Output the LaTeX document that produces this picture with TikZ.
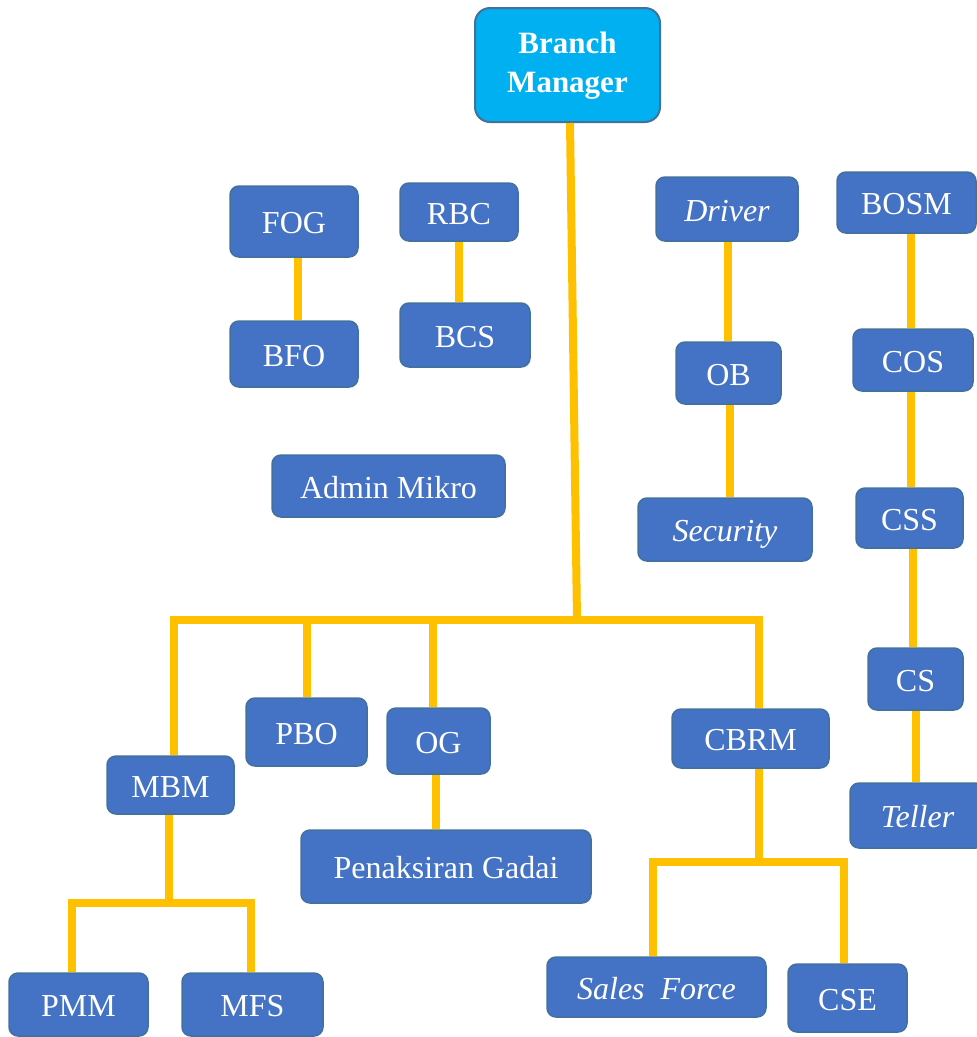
\documentclass[tikz,border=0pt]{standalone}
\usepackage{fontspec}
\setmainfont{Liberation Serif}
\definecolor{boxfill}{HTML}{4472C4}
\definecolor{boxdraw}{HTML}{41719C}
\definecolor{bmfill}{HTML}{00B0F0}
\definecolor{conncol}{HTML}{FFC000}
\tikzset{
 orgbox/.style={draw=boxdraw, fill=boxfill, line width=1.5pt, rounded corners=9pt, text=white,
   font=\fontsize{32}{38}\selectfont, inner sep=0pt, text height=24pt, text depth=0pt},
 topbox/.style={draw=boxdraw, fill=bmfill, line width=2pt, rounded corners=15pt, text=white,
   font=\fontsize{31}{39}\selectfont\bfseries, align=center, inner sep=0pt},
 conn/.style={draw=conncol, line width=8pt, line join=miter, line cap=butt},
}
\begin{document}
\begin{tikzpicture}[x=1pt,y=-1pt]
\useasboundingbox (0,0) rectangle (977,1037);
% nodes
\node[topbox, minimum width=185pt, minimum height=114pt, text depth=6pt] (bm) at (567.5,65) {Branch\\Manager};
\node[orgbox, minimum width=128pt, minimum height=71pt] (fog) at (294,221.5) {FOG};
\node[orgbox, minimum width=128pt, minimum height=66pt] (bfo) at (294,354) {BFO};
\node[orgbox, minimum width=118pt, minimum height=58pt] (rbc) at (459,212) {RBC};
\node[orgbox, minimum width=130pt, minimum height=64pt] (bcs) at (465,335) {BCS};
\node[orgbox, minimum width=233pt, minimum height=62pt] (adm) at (388.5,486) {Admin Mikro};
\node[orgbox, minimum width=142pt, minimum height=64pt] (drv) at (727,209) {\itshape Driver};
\node[orgbox, minimum width=105pt, minimum height=62pt] (ob) at (728.5,373) {OB};
\node[orgbox, minimum width=174pt, minimum height=63pt] (sec) at (725,529.5) {\itshape Security};
\node[orgbox, minimum width=139pt, minimum height=61pt] (bosm) at (906.5,202.5) {BOSM};
\node[orgbox, minimum width=120pt, minimum height=62pt] (cos) at (913,360) {COS};
\node[orgbox, minimum width=107pt, minimum height=60pt] (css) at (909.5,518) {CSS};
\node[orgbox, minimum width=95pt, minimum height=62pt] (cs) at (915.5,679) {CS};
\node[orgbox, minimum width=135pt, minimum height=65pt] (tel) at (917.5,815.5) {\itshape Teller};
\node[orgbox, minimum width=121pt, minimum height=68pt] (pbo) at (306.5,732) {PBO};
\node[orgbox, minimum width=103pt, minimum height=66pt] (og) at (438.5,741) {OG};
\node[orgbox, minimum width=127pt, minimum height=58pt] (mbm) at (170.5,785) {MBM};
\node[orgbox, minimum width=157pt, minimum height=59pt] (cbrm) at (750.5,738.5) {CBRM};
\node[orgbox, minimum width=290pt, minimum height=73pt] (pg) at (446,866.5) {Penaksiran Gadai};
\node[orgbox, minimum width=139pt, minimum height=63pt] (pmm) at (78.5,1004.5) {PMM};
\node[orgbox, minimum width=141pt, minimum height=63pt] (mfs) at (252.5,1004.5) {MFS};
\node[orgbox, minimum width=219pt, minimum height=60pt] (sf) at (656.5,987) {\itshape Sales~~Force};
\node[orgbox, minimum width=119pt, minimum height=68pt] (cse) at (847.5,998) {CSE};
% bus coordinates
\coordinate (dBM) at (577,620);
\coordinate (dMBM) at (174,620);
\coordinate (dPBO) at (307,620);
\coordinate (dOG) at (433,620);
\coordinate (dCBRM) at (759,620);
\coordinate (sM) at (169,903);
\coordinate (sL) at (72,903);
\coordinate (sR) at (251,903);
\coordinate (cM) at (759,862);
\coordinate (cL) at (653,862);
\coordinate (cR) at (844,862);
% connectors
\draw[conn] ([xshift=2.5pt]bm.south) -- (dBM);
\draw[conn] (mbm.north -| dMBM) -- (dMBM) -- (dCBRM) -- (cbrm.north -| dCBRM);
\draw[conn] (pbo.north -| dPBO) -- (dPBO);
\draw[conn] (og.north -| dOG) -- (dOG);
\draw[conn] ([xshift=4pt]fog.south) -- ([xshift=4pt]bfo.north);
\draw[conn] (rbc.south) -- ([xshift=-6pt]bcs.north);
\draw[conn] ([xshift=1pt]drv.south) -- ([xshift=-0.5pt]ob.north);
\draw[conn] ([xshift=1.5pt]ob.south) -- ([xshift=5pt]sec.north);
\draw[conn] ([xshift=4.5pt]bosm.south) -- ([xshift=-2pt]cos.north);
\draw[conn] ([xshift=-2pt]cos.south) -- ([xshift=1.5pt]css.north);
\draw[conn] ([xshift=3.5pt]css.south) -- ([xshift=-2.5pt]cs.north);
\draw[conn] ([xshift=0.5pt]cs.south) -- ([xshift=-1.5pt]tel.north);
\draw[conn] ([xshift=-2.5pt]og.south) -- ([xshift=-10pt]pg.north);
\draw[conn] ([xshift=-1.5pt]mbm.south) -- (sM);
\draw[conn] (pmm.north -| sL) -- (sL) -- (sR) -- (mfs.north -| sR);
\draw[conn] ([xshift=8.5pt]cbrm.south) -- (cM);
\draw[conn] (sf.north -| cL) -- (cL) -- (cR) -- (cse.north -| cR);
\end{tikzpicture}
\end{document}
